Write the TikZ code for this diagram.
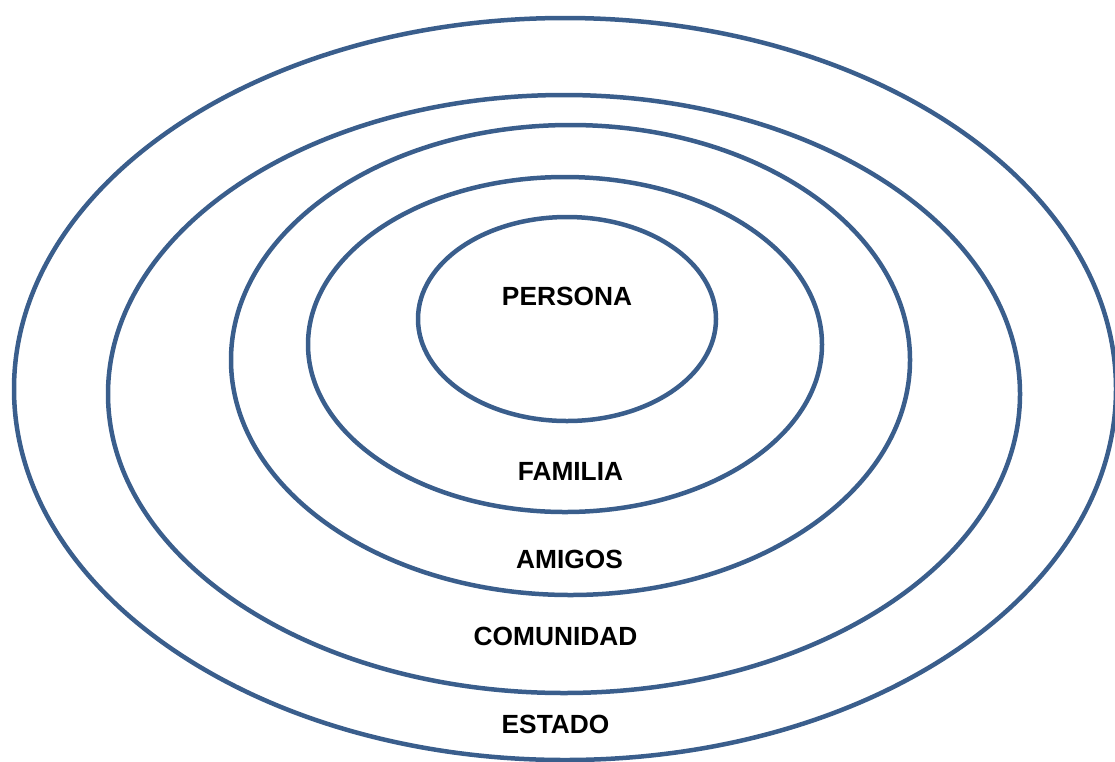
\documentclass[tikz,border=0pt]{standalone}
\usepackage{fontspec}
\setmainfont{Liberation Sans}
\usepackage{tikz}
\definecolor{ringblue}{HTML}{3A5E8C}

\begin{document}
\begin{tikzpicture}[x=1pt,y=-1pt,
    ring/.style={draw=ringblue,line width=4.5pt},
    lbl/.style={inner sep=0pt,font=\fontsize{26.3}{30}\selectfont\bfseries}]
  \useasboundingbox (0,0) rectangle (1115,761);
  % rings, outer to inner: cx/cy/rx/ry
  \foreach \cx/\cy/\rx/\ry in {565/389/551/371, 564/394/456/299, 570.5/360/339.5/235,
                               565/344.5/257/167.5, 567/319/149/102}
    \draw[ring] (\cx,\cy) ellipse [x radius=\rx, y radius=\ry];
  \node[lbl] (persona) at (567,296.5) {PERSONA};
  \node[lbl] (familia) at (570.5,471) {FAMILIA};
  \node[lbl] (amigos) at (569.5,559) {AMIGOS};
  \node[lbl] (comunidad) at (555.5,636) {COMUNIDAD};
  \node[lbl] (estado) at (555.5,724) {ESTADO};
\end{tikzpicture}
\end{document}
